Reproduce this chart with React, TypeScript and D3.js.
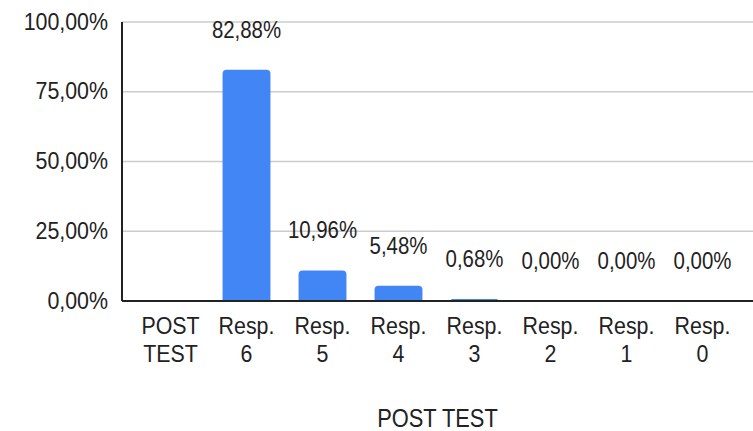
import React from "react";
import * as d3 from "d3";

const categories: string[][] = [
  ["POST", "TEST"],
  ["Resp.", "6"],
  ["Resp.", "5"],
  ["Resp.", "4"],
  ["Resp.", "3"],
  ["Resp.", "2"],
  ["Resp.", "1"],
  ["Resp.", "0"],
];
const values: (number | null)[] = [null, 82.88, 10.96, 5.48, 0.68, 0, 0, 0];
const yTicks: number[] = [0, 25, 50, 75, 100];
const axisTitle = "POST TEST";

const W = 753;
const H = 431;
const FONT = "'Liberation Sans', Arial, sans-serif";
const SX = 0.95;
const SY = 1.1;

const fmt = (v: number) => v.toFixed(2).replace(".", ",") + "%";

function barPath(x: number, y: number, w: number, h: number, r: number) {
  if (h <= 0) return "";
  const rr = Math.min(r, h, w / 2);
  return `M${x},${y + h}V${y + rr}Q${x},${y} ${x + rr},${y}H${x + w - rr}Q${x + w},${y} ${x + w},${y + rr}V${y + h}Z`;
}

function T(props: { x: number; y: number; size: number; anchor: string; children: React.ReactNode }) {
  return (
    <text
      transform={`translate(${props.x},${props.y}) scale(${SX},${SY})`}
      textAnchor={props.anchor}
      fontSize={props.size}
      fill="#222"
    >
      {props.children}
    </text>
  );
}

export default function App() {
  const left = 122;
  const right = 753;
  const y = d3.scaleLinear().domain([0, 100]).range([301, 22]);
  const x = d3
    .scaleBand<number>()
    .domain(categories.map((_, i) => i))
    .range([132.5, 740.5])
    .paddingInner(0.37)
    .paddingOuter(0.185);
  const bw = x.bandwidth();

  return (
    <svg
      width={W}
      height={H}
      style={{ position: "absolute", left: 0, top: 0, background: "#fff" }}
      fontFamily={FONT}
    >
      {yTicks.map((t) => (
        <g key={t}>
          <line x1={left} x2={right} y1={y(t)} y2={y(t)} stroke="#cccccc" strokeWidth={1.5} />
          <T x={108} y={y(t) + 7.5} anchor="end" size={22.5}>
            {fmt(t)}
          </T>
        </g>
      ))}
      {values.map((v, i) =>
        v === null ? null : (
          <path
            key={"b" + i}
            d={barPath(x(i)!, y(v), bw, y(0) - y(v), 4)}
            fill="#4285f4"
          />
        )
      )}
      {values.map((v, i) =>
        v === null ? null : (
          <T key={"l" + i} x={x(i)! + bw / 2} y={y(v) - 32} anchor="middle" size={21.5}>
            {fmt(v)}
          </T>
        )
      )}
      <line x1={left} x2={left} y1={y(100)} y2={y(0)} stroke="#222" strokeWidth={2} />
      <line x1={left} x2={right} y1={y(0)} y2={y(0)} stroke="#222" strokeWidth={2} />
      {categories.map((c, i) =>
        c.map((line, j) => (
          <T key={"c" + i + "-" + j} x={x(i)! + bw / 2} y={334 + j * 28} anchor="middle" size={22.5}>
            {line}
          </T>
        ))
      )}
      <T x={(left + right) / 2} y={427} anchor="middle" size={23}>
        {axisTitle}
      </T>
    </svg>
  );
}
